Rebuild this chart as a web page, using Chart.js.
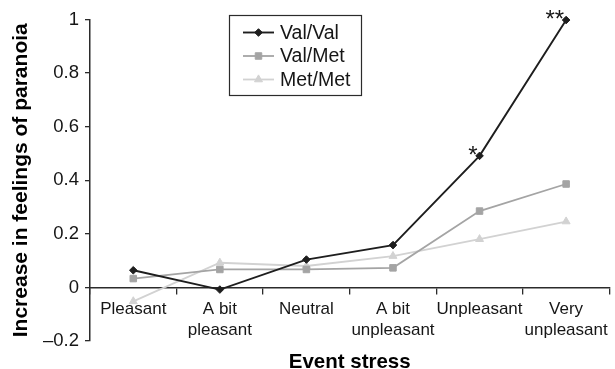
<!DOCTYPE html>
<html>
<head>
<meta charset="utf-8">
<script src="https://cdn.jsdelivr.net/npm/chart.js@4.4.1/dist/chart.umd.min.js"></script>
<style>
  html, body { margin: 0; padding: 0; background: #ffffff; }
  #wrap { width: 615px; height: 369px; }
</style>
</head>
<body>
<div id="wrap"><canvas id="paranoiaChart"></canvas></div>
<script>
"use strict";

// chart data
var categories = ["Pleasant", ["A bit", "pleasant"], "Neutral", ["A bit", "unpleasant"], "Unpleasant", ["Very", "unpleasant"]];
var valVal = [0.064, -0.008, 0.104, 0.158, 0.491, 0.998];
var valMet = [0.033, 0.067, 0.067, 0.073, 0.285, 0.386];
var metMet = [-0.052, 0.092, 0.080, 0.117, 0.180, 0.246];
var yTicks = [-0.2, 0, 0.2, 0.4, 0.6, 0.8, 1];
var stars = ["", "", "", "", "*", "**"];

var axisColor = "#2b2b2b";
var textColor = "#161616";
var fontFamily = "'Liberation Sans', Arial, Helvetica, sans-serif";

// ------------------------------------------------------- //
// Legend in a bordered box inside the plot
// ------------------------------------------------------ //
var boxLegend = {
    id: "boxLegend",
    afterDraw: function (chart) {
        var ctx = chart.ctx;
        var box = { left: 229.5, top: 15.5, right: 361.5, bottom: 95.5 };
        var rows = [32.5, 56, 79.5];
        ctx.save();
        ctx.fillStyle = "#ffffff";
        ctx.fillRect(box.left, box.top, box.right - box.left, box.bottom - box.top);
        ctx.strokeStyle = axisColor;
        ctx.lineWidth = 1.2;
        ctx.strokeRect(box.left, box.top, box.right - box.left, box.bottom - box.top);
        chart.data.datasets.forEach(function (ds, i) {
            var y = rows[i];
            ctx.strokeStyle = ds.borderColor;
            ctx.lineWidth = ds.borderWidth;
            ctx.beginPath();
            ctx.moveTo(243, y);
            ctx.lineTo(274, y);
            ctx.stroke();
            var style = { pointStyle: ds.pointStyle, radius: ds.pointRadius, borderWidth: 1, rotation: 0 };
            ctx.fillStyle = ds.pointBackgroundColor;
            ctx.strokeStyle = ds.pointBorderColor;
            ctx.lineWidth = 1;
            Chart.helpers.drawPoint(ctx, style, 258.5, y);
            ctx.fillStyle = textColor;
            ctx.font = "19.5px " + fontFamily;
            ctx.textAlign = "left";
            ctx.textBaseline = "middle";
            ctx.fillText(ds.label, 280, y + 1);
        });
        ctx.restore();
    },
};

// ------------------------------------------------------- //
// Significance stars above the Val/Val points
// ------------------------------------------------------ //
var starLabels = {
    id: "starLabels",
    afterDatasetsDraw: function (chart) {
        var ctx = chart.ctx;
        var meta = chart.getDatasetMeta(0);
        ctx.save();
        ctx.fillStyle = textColor;
        ctx.font = "24px " + fontFamily;
        ctx.textAlign = "right";
        ctx.textBaseline = "alphabetic";
        stars.forEach(function (s, i) {
            if (!s) return;
            var pt = meta.data[i];
            ctx.fillText(s, pt.x - 2, pt.y + 7);
        });
        ctx.restore();
    },
};

var CANVAS = document.getElementById("paranoiaChart");
var paranoiaChart = new Chart(CANVAS, {
    type: "line",
    plugins: [boxLegend, starLabels],
    data: {
        labels: categories,
        datasets: [
            {
                label: "Val/Val",
                data: valVal,
                borderColor: "#1e1e1e",
                borderWidth: 1.9,
                pointStyle: "rectRot",
                pointRadius: 3.8,
                pointBackgroundColor: "#1e1e1e",
                pointBorderColor: "#1e1e1e",
                pointBorderWidth: 1,
                tension: 0,
                fill: false,
                clip: false,
            },
            {
                label: "Val/Met",
                data: valMet,
                borderColor: "#a4a4a4",
                borderWidth: 1.8,
                pointStyle: "rect",
                pointRadius: 4.6,
                pointBackgroundColor: "#a4a4a4",
                pointBorderColor: "#a4a4a4",
                pointBorderWidth: 1,
                tension: 0,
                fill: false,
                clip: false,
            },
            {
                label: "Met/Met",
                data: metMet,
                borderColor: "#d2d2d2",
                borderWidth: 1.8,
                pointStyle: "triangle",
                pointRadius: 4.6,
                pointBackgroundColor: "#d2d2d2",
                pointBorderColor: "#d2d2d2",
                pointBorderWidth: 1,
                tension: 0,
                fill: false,
                clip: false,
            },
        ],
    },
    options: {
        responsive: true,
        maintainAspectRatio: false,
        animation: false,
        layout: {
            padding: { top: 19.5, right: 2, bottom: 28, left: 0 },
        },
        plugins: {
            legend: { display: false },
            tooltip: { enabled: false },
        },
        scales: {
            x: {
                type: "category",
                position: { y: 0 },
                offset: true,
                grid: {
                    display: true,
                    drawOnChartArea: false,
                    drawTicks: true,
                    tickLength: 6,
                    offset: true,
                    color: axisColor,
                    lineWidth: 1.3,
                },
                border: { display: true, color: axisColor, width: 1.5 },
                ticks: {
                    autoSkip: false,
                    maxRotation: 0,
                    padding: 5,
                    color: textColor,
                    font: { family: fontFamily, size: 17, lineHeight: 1.25 },
                },
                title: {
                    display: true,
                    text: "Event stress",
                    color: "#000000",
                    font: { family: fontFamily, size: 20.5, weight: "bold" },
                    padding: { top: 4.5, bottom: 0 },
                },
            },
            y: {
                min: -0.2,
                max: 1,
                afterBuildTicks: function (scale) {
                    scale.ticks = yTicks.map(function (v) { return { value: v }; });
                },
                afterFit: function (scale) {
                    scale.width = 90;
                },
                grid: {
                    display: true,
                    drawOnChartArea: false,
                    drawTicks: true,
                    tickLength: 5,
                    color: axisColor,
                    lineWidth: 1.3,
                },
                border: { display: true, color: axisColor, width: 1.5 },
                ticks: {
                    padding: 6,
                    color: textColor,
                    font: { family: fontFamily, size: 18.5 },
                    callback: function (value) {
                        var v = Math.round(value * 10) / 10;
                        return v < 0 ? "\u2013" + Math.abs(v) : String(v);
                    },
                },
                title: {
                    display: true,
                    text: "Increase in feelings of paranoia",
                    color: "#000000",
                    font: { family: fontFamily, size: 21, weight: "bold" },
                    padding: { top: 8.5, bottom: 0 },
                },
            },
        },
    },
});
</script>
</body>
</html>
